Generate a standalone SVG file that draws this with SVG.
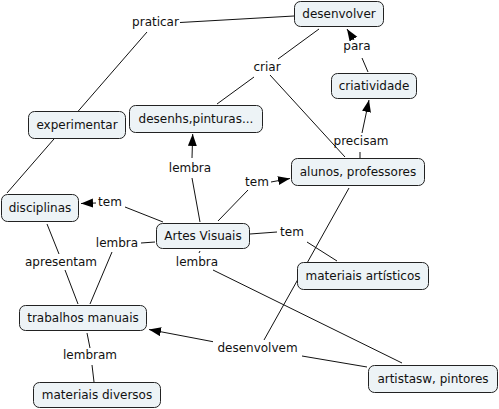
<svg xmlns="http://www.w3.org/2000/svg" width="499" height="409" viewBox="0 0 499 409">
<defs>
<marker id="ah" markerUnits="userSpaceOnUse" markerWidth="13" markerHeight="10" refX="12" refY="4.5" orient="auto">
<path d="M0,0 L12,4.5 L0,9 z" fill="#000"/>
</marker>
</defs>
<style>
.n rect{fill:#edf3f6;stroke:#222;stroke-width:1}
text{font-family:"DejaVu Sans",Verdana,sans-serif;font-size:12px;fill:#111;text-anchor:middle}
.c line{stroke:#111;stroke-width:1;fill:none}
.c .a{marker-end:url(#ah)}
</style>
<rect width="499" height="409" fill="#fff"/>
<g id="connectors" class="c">
<line x1="7" y1="193" x2="147" y2="32"/>
<line x1="180" y1="22.5" x2="294" y2="16"/>
<line x1="319" y1="29" x2="278" y2="59"/>
<line x1="254" y1="77" x2="217" y2="104"/>
<line x1="270" y1="75" x2="345" y2="157"/>
<line class="a" x1="354" y1="40" x2="347" y2="29"/>
<line x1="368" y1="72" x2="362" y2="58"/>
<line class="a" x1="362" y1="133" x2="369" y2="100"/>
<line x1="360" y1="152" x2="360" y2="158"/>
<line x1="200" y1="222" x2="192" y2="178"/>
<line class="a" x1="192" y1="158" x2="192.7" y2="134"/>
<line x1="218" y1="221" x2="248" y2="190"/>
<line class="a" x1="271" y1="182" x2="290" y2="178.5"/>
<line x1="163" y1="222" x2="125" y2="207"/>
<line class="a" x1="96" y1="203" x2="81" y2="203.5"/>
<line x1="155" y1="242" x2="141" y2="243"/>
<line x1="112" y1="252" x2="90" y2="304"/>
<line x1="47" y1="224" x2="59" y2="254"/>
<line x1="65" y1="270" x2="78" y2="304"/>
<line x1="200" y1="251" x2="199" y2="253"/>
<line x1="213" y1="270" x2="402" y2="363"/>
<line x1="250" y1="234" x2="277" y2="232"/>
<line x1="307" y1="242" x2="337" y2="261"/>
<line x1="349" y1="188" x2="264" y2="340"/>
<line class="a" x1="213" y1="341.7" x2="149" y2="329.5"/>
<line x1="302" y1="356" x2="367" y2="367"/>
<line x1="87" y1="333" x2="90" y2="348"/>
<line x1="92" y1="365" x2="94" y2="382"/>
</g>
<g id="labels">
<text x="155.5" y="26">praticar</text>
<text x="267" y="71">criar</text>
<text x="357" y="50">para</text>
<text x="361" y="145">precisam</text>
<text x="190" y="172">lembra</text>
<text x="257" y="186">tem</text>
<text x="110" y="206">tem</text>
<text x="117" y="247">lembra</text>
<text x="61" y="266">apresentam</text>
<text x="197" y="266">lembra</text>
<text x="292" y="236">tem</text>
<text x="257.5" y="352">desenvolvem</text>
<text x="90" y="359">lembram</text>
</g>
<g id="desenvolver" class="n"><rect x="294.5" y="1.5" width="89" height="25" rx="6"/><text x="339" y="18">desenvolver</text></g>
<g id="criatividade" class="n"><rect x="331.5" y="73.5" width="85" height="25" rx="6"/><text x="374" y="90">criatividade</text></g>
<g id="alunos" class="n"><rect x="291.5" y="158.5" width="133" height="27" rx="6"/><text x="358" y="176">alunos, professores</text></g>
<g id="desenhs" class="n"><rect x="129.5" y="105.5" width="133" height="27" rx="6"/><text x="196" y="123">desenhs,pinturas...</text></g>
<g id="experimentar" class="n"><rect x="28.5" y="111.5" width="97" height="27" rx="6"/><text x="77" y="129">experimentar</text></g>
<g id="disciplinas" class="n"><rect x="1.5" y="194.5" width="77" height="27" rx="6"/><text x="40" y="212">disciplinas</text></g>
<g id="artes" class="n"><rect x="156.5" y="223.5" width="93" height="25" rx="6"/><text x="203" y="240">Artes Visuais</text></g>
<g id="materiais-artisticos" class="n"><rect x="297.5" y="262.5" width="131" height="27" rx="6"/><text x="363" y="280">materiais artísticos</text></g>
<g id="trabalhos" class="n"><rect x="19.5" y="305.5" width="127" height="25" rx="6"/><text x="83" y="322">trabalhos manuais</text></g>
<g id="materiais-diversos" class="n"><rect x="33.5" y="382.5" width="127" height="25" rx="6"/><text x="97" y="399">materiais diversos</text></g>
<g id="artistas" class="n"><rect x="368.5" y="365.5" width="129" height="27" rx="6"/><text x="433" y="383">artistasw, pintores</text></g>
</svg>
